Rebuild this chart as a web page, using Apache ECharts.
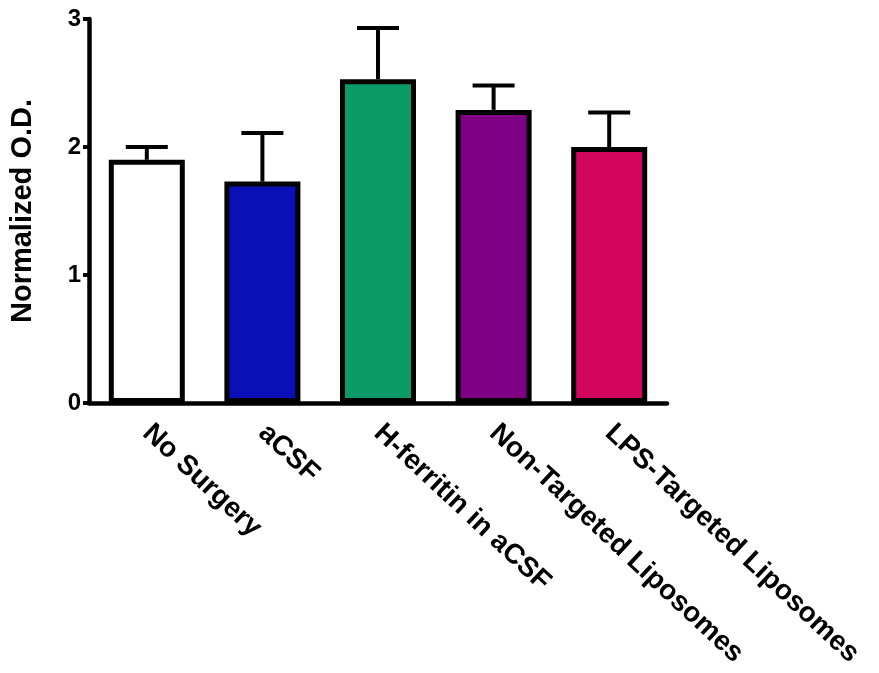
<!DOCTYPE html>
<html>
<head>
<meta charset="utf-8">
<script src="https://cdn.jsdelivr.net/npm/echarts@6/dist/echarts.min.js"></script>
<style>
  html, body { margin: 0; padding: 0; background: #fff; }
  #chart { width: 879px; height: 673px; }
</style>
</head>
<body>
<div id="chart"></div>
<script>
// data
var categories = ['No Surgery', 'aCSF', 'H-ferritin in aCSF', 'Non-Targeted Liposomes', 'LPS-Targeted Liposomes'];
var means = [1.90, 1.73, 2.53, 2.29, 2.00];
var errUpper = [2.00, 2.11, 2.93, 2.48, 2.27];
var barColors = ['#ffffff', '#0b0fb8', '#0c9a68', '#7f0084', '#d3075f'];

(function () {
    var myChart = echarts.init(document.getElementById('chart'));
    var font = 'Liberation Sans, Arial, sans-serif';

    var option = {
        animation: false,
        grid: { left: 87, right: 212, top: 19, bottom: 270 },
        xAxis: {
            type: 'category',
            data: categories,
            axisLine: { lineStyle: { color: '#000', width: 4.5 } },
            axisTick: { alignWithLabel: true, length: 9, lineStyle: { color: '#000', width: 4 } },
            axisLabel: {
                rotate: -43,
                margin: 26,
                color: '#000',
                fontFamily: font,
                fontWeight: 'bold',
                fontSize: 28,
                interval: 0
            }
        },
        yAxis: {
            type: 'value',
            min: 0,
            max: 3,
            interval: 1,
            name: 'Normalized O.D.',
            nameLocation: 'middle',
            nameGap: 52,
            nameTextStyle: { color: '#000', fontFamily: font, fontWeight: 'bold', fontSize: 29 },
            splitLine: { show: false },
            axisLine: { show: true, lineStyle: { color: '#000', width: 4.5 } },
            axisTick: { show: true, length: 6, lineStyle: { color: '#000', width: 4 } },
            axisLabel: { color: '#000', fontFamily: font, fontWeight: 'bold', fontSize: 24, margin: 8 }
        },
        series: [
            {
                type: 'custom',
                z: 1,
                data: categories.map(function (c, i) { return [i, means[i], errUpper[i]]; }),
                renderItem: function (params, api) {
                    var base = api.coord([api.value(0), api.value(1)]);
                    var top = api.coord([api.value(0), api.value(2)]);
                    var half = 21;
                    var style = { stroke: '#000', lineWidth: 4, fill: null };
                    return {
                        type: 'group',
                        children: [
                            { type: 'line', shape: { x1: base[0], y1: base[1], x2: top[0], y2: top[1] }, style: style },
                            { type: 'line', shape: { x1: top[0] - half, y1: top[1], x2: top[0] + half, y2: top[1] }, style: style }
                        ]
                    };
                }
            },
            {
                type: 'bar',
                z: 2,
                barWidth: 76,
                data: means.map(function (v, i) {
                    return { value: v, itemStyle: { color: barColors[i] } };
                }),
                itemStyle: { borderColor: '#000', borderWidth: 5 }
            }
        ]
    };
    myChart.setOption(option);
})();
</script>
</body>
</html>
